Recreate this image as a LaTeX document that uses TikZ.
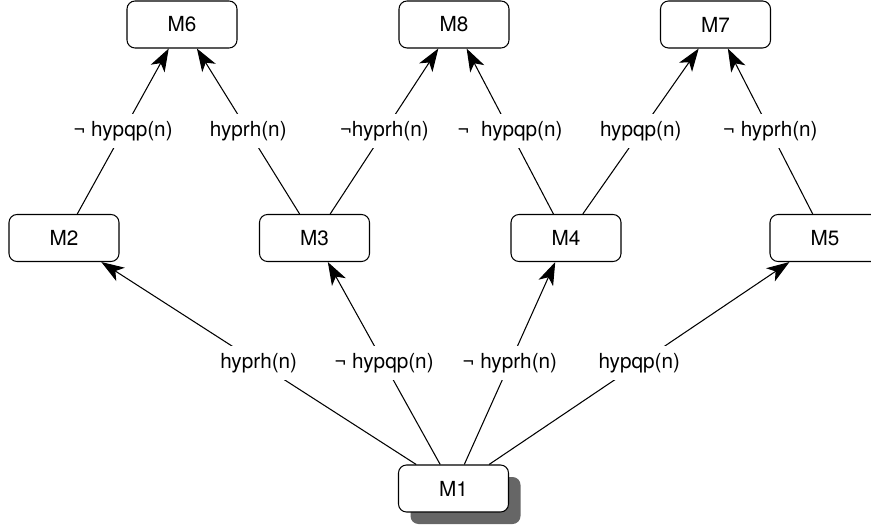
\documentclass[tikz,border=0pt]{standalone}
\usepackage{fontspec}
\setmainfont{TeX Gyre Heros}
\usetikzlibrary{arrows.meta,shadows}
\tikzset{
	mbox/.style={draw, line width=0.6pt, rounded corners=0.16cm, fill=white, minimum width=2.2cm, minimum height=0.94cm, font=\fontsize{11.8}{14}\selectfont},
	mshadow/.style={mbox, drop shadow={shadow xshift=0.24cm, shadow yshift=-0.24cm, fill=black!60, opacity=1}},
	lbl/.style={fill=white, inner xsep=2pt, inner ysep=4pt, font=\fontsize{11.8}{14}\selectfont},
	arr/.style={line width=0.6pt, -{Stealth[length=13pt, width=9pt, inset=3.5pt]}}
}

\begin{document}
\begin{tikzpicture}
		%%%%% START %%%%%
		
		\useasboundingbox (0, 0) rectangle (17.42, 10.54);
		
		\node[mbox] (m6) at (3.64, 10.05) {M6};
		\node[mbox] (m8) at (9.08, 10.05) {M8};
		\node[mbox] (m7) at (14.31, 10.05) {M7};
		
		\node[mbox] (m2) at (1.28, 5.78) {M2};
		\node[mbox] (m3) at (6.29, 5.78) {M3};
		\node[mbox] (m4) at (11.32, 5.78) {M4};
		\node[mbox] (m5) at (16.5, 5.78) {M5};
		
		\node[mshadow] (m1) at (9.07, 0.77) {M1};
		
		\draw[arr] (m2) -- node[lbl] {¬ hypqp(n)} (m6);
		\draw[arr] (m3) -- node[lbl] {hyprh(n)} (m6);
		\draw[arr] (m3) -- node[lbl] {¬hyprh(n)} (m8);
		\draw[arr] (m4) -- node[lbl] {¬\ \ hypqp(n)} (m8);
		\draw[arr] (m4) -- node[lbl] {hypqp(n)} (m7);
		\draw[arr] (m5) -- node[lbl] {¬ hyprh(n)} (m7);
		
		\draw[arr] (m1) -- node[lbl] {hyprh(n)} (m2);
		\draw[arr] (m1) -- node[lbl] {¬ hypqp(n)} (m3);
		\draw[arr] (m1) -- node[lbl] {¬ hyprh(n)} (m4);
		\draw[arr] (m1) -- node[lbl] {hypqp(n)} (m5);
		
		%%%%% END %%%%%
	\end{tikzpicture}
\end{document}
